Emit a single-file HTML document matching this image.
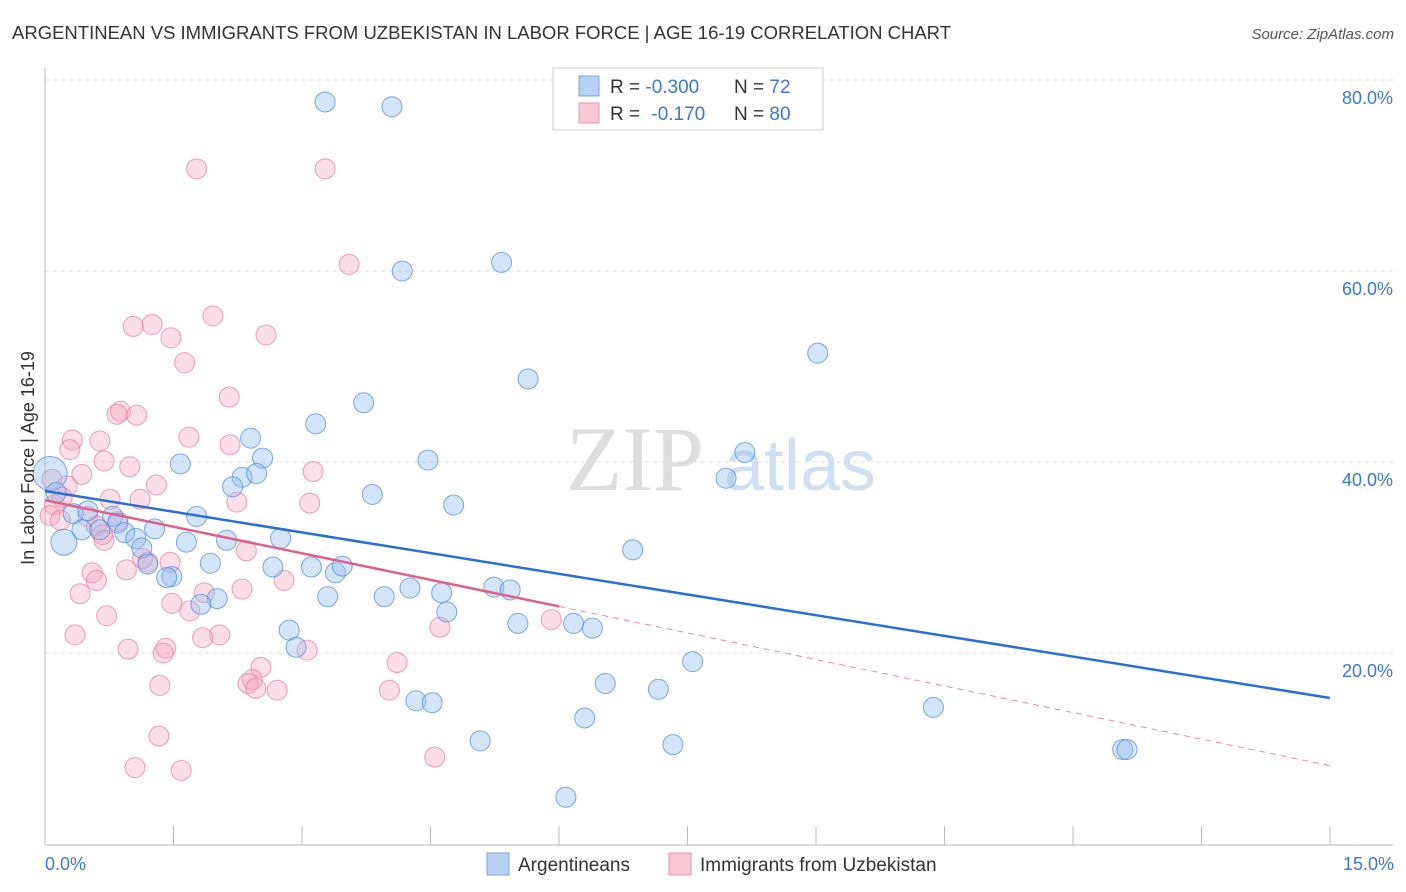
<!DOCTYPE html>
<html><head><meta charset="utf-8"><style>
body{margin:0;background:#fff;font-family:"Liberation Sans",sans-serif}
svg{display:block}
</style></head><body>
<svg id="c" width="1406" height="892" font-family="Liberation Sans, sans-serif">
<text x="12" y="39" font-size="18" fill="#333" textLength="939" lengthAdjust="spacingAndGlyphs">ARGENTINEAN VS IMMIGRANTS FROM UZBEKISTAN IN LABOR FORCE | AGE 16-19 CORRELATION CHART</text>
<text x="1394" y="39" font-size="15" fill="#555" text-anchor="end" font-style="italic">Source: ZipAtlas.com</text>
<g><text x="635" y="490" font-size="92" fill="#ddd" font-family="Liberation Serif, serif" text-anchor="middle">ZIP</text><text x="800" y="490" font-size="72" fill="#cfe0f3" text-anchor="middle">atlas</text></g>
<g id="grid"></g>
<g id="axes"></g>
<g id="pts"></g>
<g id="lines"></g>
<text x="34" y="458" font-size="18" fill="#333" text-anchor="middle" transform="rotate(-90 34 458)">In Labor Force | Age 16-19</text>
<text x="45" y="870" font-size="18" fill="#3a78d4">0.0%</text>
<text x="1394" y="870" font-size="18" fill="#3a78d4" text-anchor="end">15.0%</text>
<g>
<rect x="553" y="68" width="270" height="62" fill="#fff" stroke="#ccc"/>
<rect x="579" y="76" width="20" height="20" fill="#b8d1f3" stroke="#7aa5e0"/>
<rect x="579" y="103" width="20" height="20" fill="#f9c8d6" stroke="#e899b0"/>
<text x="610" y="93" font-size="19" fill="#333">R = <tspan fill="#3a78d4">-0.300</tspan><tspan x="734">N = </tspan><tspan fill="#3a78d4">72</tspan></text>
<text x="610" y="120" font-size="19" fill="#333">R = <tspan fill="#3a78d4" dx="6">-0.170</tspan><tspan x="734">N = </tspan><tspan fill="#3a78d4">80</tspan></text>
</g>
<g>
<rect x="487" y="853" width="22" height="22" fill="#b8d1f3" stroke="#7aa5e0"/>
<text x="518" y="871" font-size="19" fill="#333">Argentineans</text>
<rect x="669" y="853" width="22" height="22" fill="#f9c8d6" stroke="#e899b0"/>
<text x="700" y="871" font-size="19" fill="#333">Immigrants from Uzbekistan</text>
</g>
</svg>
<script>
const yTicks=[20,40,60,80];
const xTickCount=10;
const blueX=[3.27,4.05,4.17,5.33,9.02,5.64,3.72,3.16,2.40,8.17,1.58,2.54,4.47,2.30,2.47,7.95,2.19,3.82,4.77,0.06,0.22,0.13,0.33,0.50,0.79,0.85,0.43,0.64,0.93,1.06,1.28,1.77,1.13,1.20,1.65,2.12,2.75,1.93,1.48,1.42,2.66,3.11,3.39,3.47,6.86,5.24,5.43,4.26,4.63,3.30,3.96,2.01,1.82,4.69,2.85,5.52,6.17,6.39,2.93,7.56,6.54,7.16,4.33,4.52,10.37,6.30,5.08,7.33,12.58,12.63,6.08];
const blueY=[77.7,77.2,60.0,60.9,51.4,48.7,46.2,44.0,42.5,41.0,39.8,40.4,40.2,38.4,38.8,38.3,37.4,36.6,35.5,38.8,31.6,36.8,34.6,34.9,34.3,33.6,32.9,32.9,32.6,32.0,33.0,34.3,31.0,29.3,31.6,31.8,32.0,29.4,28.0,27.9,29.0,29.0,28.4,29.1,30.8,26.9,26.6,26.8,26.3,25.9,25.9,25.7,25.1,24.3,22.4,23.1,23.1,22.6,20.6,19.1,16.8,16.2,15.0,14.8,14.3,13.2,10.8,10.4,9.9,9.9,4.9];
const blueR=[10,10,10,10,10,10,10,10,10,10,10,10,10,10,10,10,10,10,10,17,13,10,10,10,10,10,10,10,10,10,10,10,10,10,10,10,10,10,10,10,10,10,10,10,10,10,10,10,10,10,10,10,10,10,10,10,10,10,10,10,10,10,10,10,10,10,10,10,10,10,10];
const pinkX=[1.77,3.27,3.55,1.96,1.25,1.03,2.58,1.47,1.63,2.15,0.88,0.84,1.07,1.68,0.32,0.64,2.16,0.29,0.69,0.99,3.13,0.43,0.08,1.30,0.26,0.76,1.11,2.24,3.09,0.11,0.20,0.06,0.18,0.50,0.85,0.60,0.67,0.69,2.35,1.14,1.46,1.20,0.95,0.55,0.60,2.79,0.41,1.86,2.30,1.48,1.69,0.72,5.91,4.61,0.35,2.04,1.84,1.41,1.38,0.97,3.06,4.11,2.52,2.42,2.37,1.34,2.46,2.71,4.02,1.33,4.55,1.05,1.59];
const pinkY=[70.7,70.7,60.7,55.3,54.4,54.2,53.3,53.0,50.4,46.8,45.3,45.0,44.9,42.6,42.3,42.2,41.8,41.3,40.1,39.5,39.0,38.7,38.2,37.6,37.5,36.1,36.1,35.8,35.7,35.5,36.3,34.4,33.9,34.3,33.8,33.3,32.4,31.8,30.7,29.9,29.5,29.5,28.7,28.4,27.6,27.6,26.2,26.3,26.7,25.2,24.4,23.9,23.5,22.7,21.9,21.9,21.6,20.5,20.0,20.4,20.3,19.0,18.5,17.2,16.8,16.6,16.3,16.1,16.1,11.3,9.1,8.0,7.7];
const blueTrend=[36.96,15.29];
const pinkTrend=[36.0,8.2];
const pinkSolidEnd=6.0;
const X0=45,X1=1330,Y0=844,PPY=9.55;
const sx=v=>X0+(v/15)*(X1-X0);
const sy=v=>Y0-v*PPY;
const NS="http://www.w3.org/2000/svg";
function mk(tag,attrs,parent){const e=document.createElementNS(NS,tag);for(const k in attrs)e.setAttribute(k,attrs[k]);document.getElementById(parent).appendChild(e);return e;}
yTicks.forEach(t=>{
 const l=mk('line',{x1:45,x2:1393,y1:sy(t),y2:sy(t),stroke:'#ddd','stroke-dasharray':'4,4'},'grid');
 
 
 const tx=mk('text',{x:1393,y:sy(t)+24,'font-size':18,fill:'#3a78d4','text-anchor':'end'},'grid');
 tx.textContent=t.toFixed(1)+'%';
 
 
});
let ax=mk('line',{x1:45,x2:45,y1:68,y2:845,stroke:'#bbb'},'axes');


ax=mk('line',{x1:45,x2:1393,y1:845,y2:845,stroke:'#bbb'},'axes');


for(let i=0;i<=xTickCount;i++){
 const x=sx(i*15/xTickCount);
 const t=mk('line',{x1:x,x2:x,y1:826,y2:845,stroke:'#bbb'},'axes');
 
 
}
pinkX.forEach((v,i)=>{
 const c=mk('circle',{cx:sx(v),cy:sy(pinkY[i]),r:10,fill:'rgba(244,160,185,0.35)',stroke:'rgba(228,120,155,0.7)','stroke-width':1},'pts');
 
 
});
blueX.forEach((v,i)=>{
 const c=mk('circle',{cx:sx(v),cy:sy(blueY[i]),r:blueR[i],fill:'rgba(150,190,240,0.4)',stroke:'rgba(80,140,220,0.75)','stroke-width':1},'pts');
 
 
});
let ln=mk('line',{x1:sx(0),y1:sy(blueTrend[0]),x2:sx(15),y2:sy(blueTrend[1]),stroke:'#2a6fd6','stroke-width':2.5},'lines');


const py=x=>pinkTrend[0]+(pinkTrend[1]-pinkTrend[0])*x/15;
ln=mk('line',{x1:sx(0),y1:sy(pinkTrend[0]),x2:sx(pinkSolidEnd),y2:sy(py(pinkSolidEnd)),stroke:'#e0608a','stroke-width':2.5},'lines');


ln=mk('line',{x1:sx(pinkSolidEnd),y1:sy(py(pinkSolidEnd)),x2:sx(15),y2:sy(pinkTrend[1]),stroke:'#e88aa8','stroke-width':1,'stroke-dasharray':'6,5'},'lines');


</script>
</body></html>
